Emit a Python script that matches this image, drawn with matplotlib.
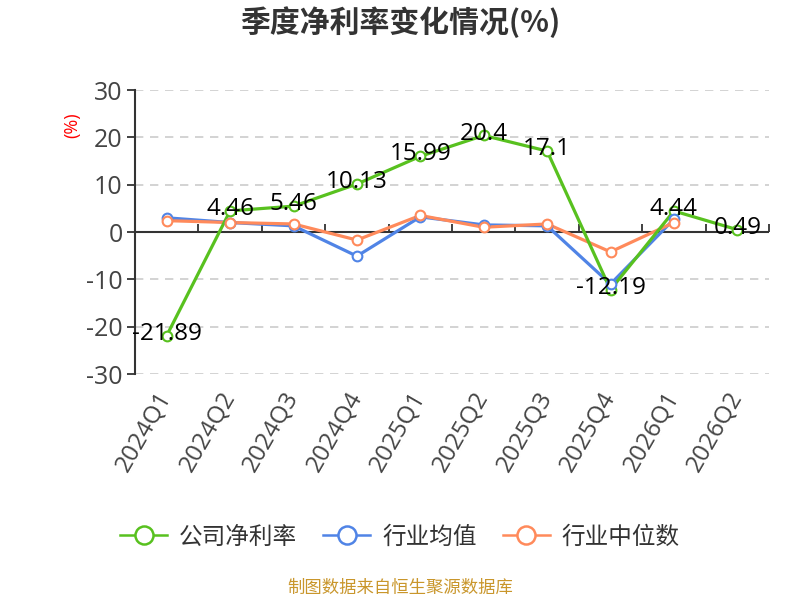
import matplotlib
matplotlib.use("Agg")
import matplotlib.pyplot as plt
from matplotlib.lines import Line2D

plt.rcParams['font.family'] = ['Open Sans', 'Noto Sans CJK SC', 'DejaVu Sans']
CJK = ['Noto Sans CJK SC', 'DejaVu Sans']

categories = ["2024Q1", "2024Q2", "2024Q3", "2024Q4", "2025Q1",
              "2025Q2", "2025Q3", "2025Q4", "2026Q1", "2026Q2"]
company = [-21.89, 4.46, 5.46, 10.13, 15.99, 20.4, 17.1, -12.19, 4.44, 0.49]
industry_avg = [3.0, 2.0, 1.3, -5.1, 3.2, 1.5, 1.3, -11.0, 2.7]
industry_med = [2.4, 2.0, 1.7, -1.7, 3.5, 1.0, 1.7, -4.2, 2.0]
yticks = [-30, -20, -10, 0, 10, 20, 30]

series_names = ["公司净利率", "行业均值", "行业中位数"]
c_green = "#58c11f"
c_blue = "#5084e6"
c_orange = "#ff8a5b"

fig = plt.figure(figsize=(8, 6), dpi=100)
ax = fig.add_axes([135/800, 1-374/600, (769-135)/800, (374-90)/600])

x_c = list(range(len(company)))
x_a = list(range(len(industry_avg)))
x_m = list(range(len(industry_med)))

ax.plot(x_a, industry_avg, color=c_blue, lw=2.3, zorder=3, solid_capstyle='round')
ax.plot(x_m, industry_med, color=c_orange, lw=2.3, zorder=3.5, solid_capstyle='round')
ax.plot(x_c, company, color=c_green, lw=2.3, zorder=4, solid_capstyle='round')
mk = dict(ls='none', marker='o', markersize=7, markerfacecolor='white', markeredgewidth=1.5)
ax.plot(x_c, company, markeredgecolor=c_green, zorder=5, **mk)
ax.plot(x_a, industry_avg, markeredgecolor=c_blue, zorder=5.5, **mk)
ax.plot(x_m, industry_med, markeredgecolor=c_orange, zorder=6, **mk)

for xi, v in zip(x_c, company):
    ax.text(xi, v + 0.4, f"{v:g}", ha='center', va='center', fontsize=17.5,
            color='black', zorder=10)

ax.set_xlim(-0.5, len(categories) - 0.5)
ax.set_ylim(-30, 30)
ax.set_yticks(yticks)
ax.set_yticklabels([str(t) for t in yticks], fontsize=18, color='#444444')
ax.tick_params(axis='y', length=6, width=1.3, color='#333333', pad=3)

for t in yticks:
    if t != 0:
        ax.axhline(t, color='#cccccc', lw=1.2, ls=(0, (5, 4)), zorder=1)
ax.axhline(0, color='#333333', lw=1.5, zorder=2)

for s in ['top', 'right', 'bottom']:
    ax.spines[s].set_visible(False)
ax.spines['left'].set_color('#333333')
ax.spines['left'].set_linewidth(1.5)

ax.set_xticks(x_c)
ax.set_xticklabels(categories, rotation=60, ha='right', va='center',
                   rotation_mode='anchor', fontsize=17.5, color='#444444')
ax.tick_params(axis='x', length=0, pad=14)

sec = ax.secondary_xaxis(0.5)
sec.set_xticks([i + 0.5 for i in range(len(categories))])
sec.set_xticklabels([])
sec.tick_params(axis='x', direction='out', length=6, width=1.3, color='#333333')
for s in sec.spines.values():
    s.set_visible(False)

fig.text(72/800, 1-125/600, "(%)", rotation=90, color='red', fontsize=13,
         ha='center', va='center')

fig.text(0.5, 1-22/600, "季度净利率变化情况(%)", ha='center', va='center',
         fontsize=21.5, fontweight='bold', color='#333333', family=CJK)

handles = [Line2D([], [], color=c, lw=1.8, marker='o', markersize=13,
                  markerfacecolor='white', markeredgewidth=1.8)
           for c in [c_green, c_blue, c_orange]]
fig.legend(handles, series_names, loc='center', bbox_to_anchor=(0.5, 1-537/600),
           ncol=3, frameon=False, prop={'family': CJK, 'size': 17}, handlelength=2.0,
           columnspacing=1.1, handletextpad=0.5, labelcolor='#333333')

fig.text(0.5, 1-588/600, "制图数据来自恒生聚源数据库", ha='center', va='center',
         fontsize=12.5, color='#c9962b', family=CJK)

fig.savefig("out.png", dpi=100)
